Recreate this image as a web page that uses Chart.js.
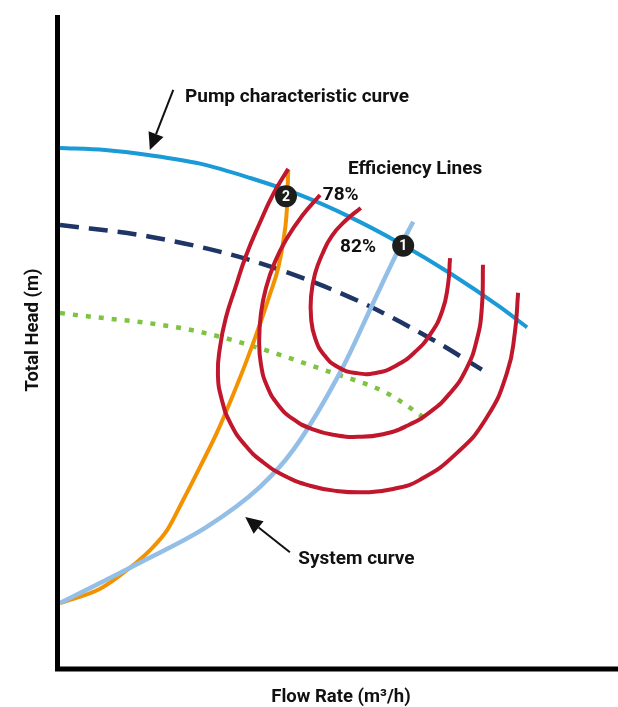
<!DOCTYPE html>
<html><head><meta charset="utf-8">
<script src="https://cdn.jsdelivr.net/npm/chart.js@4"></script>
<style>html,body{margin:0;padding:0;background:#fff;}</style>
</head><body>
<canvas id="c" width="618" height="707" style="display:block;width:618px;height:707px"></canvas>
<script>
// Flow rate (x) and total head (y), relative units 0-100
const pumpX = [0, 8.1, 16.1, 25.1, 34.1, 43.0, 52.0, 60.9, 69.9, 78.9, 83.7];
const pumpY = [79.6, 79.3, 78.5, 77.2, 75.0, 72.4, 69.0, 65.0, 60.4, 55.2, 52.1];

const dashedX = [0, 16.1, 34.1, 52.0, 66.8, 75.6];
const dashedY = [67.8, 66.0, 62.4, 56.7, 50.2, 45.6];

const dottedX = [0, 25.1, 48.9, 58.6, 66.3];
const dottedY = [54.3, 51.4, 45.1, 42.0, 37.6];

const orangeX = [0, 7.2, 12.5, 16.1, 19.2, 22.0, 25.1, 28.1, 30.8, 33.5, 35.8, 37.6, 39.1, 40.1, 40.7, 40.9];
const orangeY = [9.8, 12.0, 15.2, 17.9, 21.0, 25.5, 30.7, 35.9, 41.3, 47.1, 52.5, 57.1, 61.2, 65.8, 70.9, 76.2];

const systemX = [0, 14.3, 26.3, 35.8, 41.8, 50.7, 56.1, 60.9, 63.3];
const systemY = [9.8, 16.0, 21.5, 27.6, 33.3, 46.0, 55.8, 64.4, 68.3];

const eff82X = [53.9, 51.1, 48.7, 47.0, 45.7, 45.0, 45.0, 45.7, 47.3, 49.8, 53.0, 56.6, 60.2, 63.6, 66.5, 68.5, 69.5, 69.9];
const eff82Y = [70.4, 68.4, 66.1, 63.3, 60.3, 56.9, 53.5, 50.5, 47.9, 46.0, 45.1, 45.1, 46.2, 48.3, 51.2, 54.6, 58.4, 62.7];

const eff78X = [46.6, 43.4, 40.7, 38.5, 36.9, 36.0, 35.7, 36.0, 37.1, 39.1, 41.8, 45.2, 49.1, 53.4, 57.9, 62.2, 66.3, 69.9, 72.8, 74.7, 75.6, 75.8];
const eff78Y = [72.4, 69.2, 65.8, 62.1, 58.1, 54.1, 50.2, 46.5, 43.1, 40.2, 38.0, 36.5, 35.6, 35.3, 35.7, 37.0, 39.1, 42.0, 45.7, 50.2, 55.1, 61.7];

const effOuterX = [40.9, 38.2, 35.7, 33.3, 31.4, 29.7, 28.7, 28.3, 29.0, 30.6, 33.2, 36.4, 40.3, 44.8, 49.6, 54.7, 59.7, 64.5, 71.1, 76.5, 80.1, 81.5, 82.1];
const effOuterY = [76.4, 72.5, 67.9, 63.0, 58.1, 53.5, 49.2, 44.9, 41.0, 37.3, 34.0, 31.4, 29.3, 27.8, 27.0, 26.8, 27.3, 28.7, 32.8, 38.3, 45.1, 51.2, 57.4];

const markerX = [61.5, 40.5];
const markerY = [64.6, 72.2];
const markerLabels = ["1", "2"];

const noteTexts = ["Pump characteristic curve", "Efficiency Lines", "78%", "82%", "System curve"];
const noteX = [22.4, 51.6, 47.1, 50.2, 42.7];
const noteY = [87.4, 76.4, 72.4, 64.4, 16.6];

const arrowFromX = [20.3, 41.2];
const arrowFromY = [88.5, 17.6];
const arrowToX = [16.1, 33.2];
const arrowToY = [79.3, 23.0];

const xTitle = "Flow Rate (m³/h)";
const yTitle = "Total Head (m)";

const pts = (xs, ys) => xs.map((x, i) => ({x, y: ys[i]}));
const FONT = "Roboto";

function line(label, xs, ys, color, width, order, extra) {
  return Object.assign({
    label, data: pts(xs, ys), showLine: true, borderColor: color, backgroundColor: color,
    borderWidth: width, pointRadius: 0, pointHoverRadius: 0, tension: 0.5, fill: false,
    order, borderCapStyle: 'butt', borderJoinStyle: 'round'
  }, extra || {});
}
const mono = {cubicInterpolationMode: 'monotone'};

const overlay = {
  id: 'overlay',
  afterDraw(chart) {
    const ctx = chart.ctx, xs = chart.scales.x, ys = chart.scales.y, a = chart.chartArea;
    ctx.save();
    // axes
    ctx.strokeStyle = '#000'; ctx.lineWidth = 5; ctx.lineCap = 'butt';
    ctx.beginPath();
    ctx.moveTo(a.left - 2.5, a.top);
    ctx.lineTo(a.left - 2.5, a.bottom + 2);
    ctx.lineTo(618, a.bottom + 2);
    ctx.stroke();
    // marker numbers
    ctx.fillStyle = '#fff';
    ctx.font = 'bold 14px ' + FONT;
    ctx.textAlign = 'center'; ctx.textBaseline = 'middle';
    markerLabels.forEach((t, i) => {
      ctx.fillText(t, xs.getPixelForValue(markerX[i]), ys.getPixelForValue(markerY[i]) + 1);
    });
    // notes
    ctx.fillStyle = '#111';
    ctx.font = 'bold 19px ' + FONT;
    ctx.textAlign = 'left';
    noteTexts.forEach((t, i) => {
      ctx.fillText(t, xs.getPixelForValue(noteX[i]), ys.getPixelForValue(noteY[i]));
    });
    // arrows
    ctx.strokeStyle = '#111'; ctx.fillStyle = '#111'; ctx.lineWidth = 2;
    arrowFromX.forEach((fx, i) => {
      const x1 = xs.getPixelForValue(fx), y1 = ys.getPixelForValue(arrowFromY[i]);
      const x2 = xs.getPixelForValue(arrowToX[i]), y2 = ys.getPixelForValue(arrowToY[i]);
      const ang = Math.atan2(y2 - y1, x2 - x1), L = 17, W = 8;
      const bx = x2 - L * Math.cos(ang), by = y2 - L * Math.sin(ang);
      ctx.beginPath(); ctx.moveTo(x1, y1); ctx.lineTo(bx, by); ctx.stroke();
      ctx.beginPath();
      ctx.moveTo(x2, y2);
      ctx.lineTo(bx + W * Math.sin(ang), by - W * Math.cos(ang));
      ctx.lineTo(bx - W * Math.sin(ang), by + W * Math.cos(ang));
      ctx.closePath(); ctx.fill();
    });
    // axis titles
    ctx.fillStyle = '#111';
    ctx.font = 'bold 18.5px ' + FONT;
    ctx.textAlign = 'center'; ctx.textBaseline = 'middle';
    ctx.fillText(xTitle, 341, 697);
    ctx.translate(33, 330); ctx.rotate(-Math.PI / 2);
    ctx.fillText(yTitle, 0, 0);
    ctx.restore();
  }
};

new Chart(document.getElementById('c'), {
  type: 'scatter',
  data: {
    datasets: [
      {label: 'Points', data: pts(markerX, markerY), pointRadius: 11, pointHoverRadius: 11,
       pointBackgroundColor: '#1d1d1b', pointBorderWidth: 0, showLine: false, order: 0},
      line('Efficiency 82%', eff82X, eff82Y, '#C1172C', 4, 1),
      line('Efficiency 78%', eff78X, eff78Y, '#C1172C', 4, 1),
      line('Efficiency outer', effOuterX, effOuterY, '#C1172C', 4, 1),
      line('System curve', systemX, systemY, '#93BFE7', 4.5, 2, mono),
      line('Orange curve', orangeX, orangeY, '#F39200', 4, 3, mono),
      line('Pump characteristic curve', pumpX, pumpY, '#1A9AD6', 4, 2, mono),
      line('Dashed curve', dashedX, dashedY, '#1F3566', 4.5, 4, Object.assign({borderDash: [19, 10]}, mono)),
      line('Dotted curve', dottedX, dottedY, '#7FC343', 4.5, 4, Object.assign({borderDash: [5, 8]}, mono))
    ]
  },
  options: {
    responsive: false, animation: false, devicePixelRatio: 1,
    layout: {autoPadding: false, padding: {left: 60, top: 15, right: 0, bottom: 40}},
    plugins: {legend: {display: false}, tooltip: {enabled: false}, title: {display: false}},
    scales: {
      x: {type: 'linear', min: 0, max: 100, display: false},
      y: {type: 'linear', min: 0, max: 100, display: false}
    }
  },
  plugins: [overlay]
});
</script>
</body></html>
